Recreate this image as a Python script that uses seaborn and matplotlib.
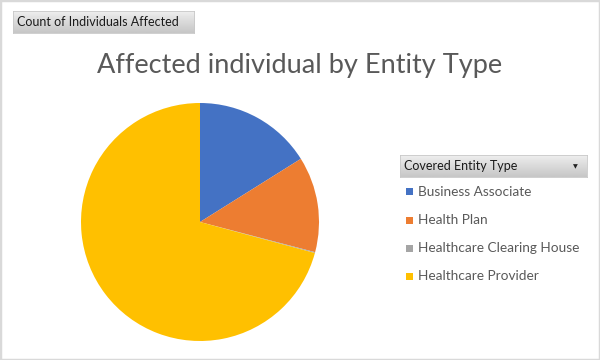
import numpy as np
import matplotlib
matplotlib.use("Agg")
import matplotlib.pyplot as plt
from matplotlib.patches import Rectangle
import seaborn as sns

# data (start at 12 o'clock, clockwise)
entity_types = ["Business Associate", "Health Plan",
                "Healthcare Clearing House", "Healthcare Provider"]
individuals = [27_500_000, 22_200_000, 200_000, 121_000_000]
slice_colors = ["#4472C4", "#ED7D31", "#A5A5A5", "#FFC000"]

chart_title = "Affected individual by Entity Type"
value_field = "Count of Individuals Affected"
legend_field = "Covered Entity Type"

sns.set_theme(style="white")
plt.rcParams["font.family"] = ["Lato", "DejaVu Sans"]

W, H = 600, 360
fig = plt.figure(figsize=(W / 100, H / 100), dpi=100)
fig.patch.set_facecolor("white")


def fx(px):
    return px / W


def fy(py):
    # pixel from top -> figure fraction from bottom
    return 1 - py / H


# pie: center (200, 222) px, radius 119 px
cx, cy, r = 200, 222, 119
ax = fig.add_axes([fx(cx - r), fy(cy + r), 2 * r / W, 2 * r / H])
ax.pie(individuals, colors=slice_colors, startangle=90, counterclock=False,
       radius=1, wedgeprops=dict(linewidth=0))
ax.set_xlim(-1, 1)
ax.set_ylim(-1, 1)
ax.set_aspect("auto")
ax.axis("off")

# title
fig.text(0.5, fy(66), chart_title, ha="center", va="center",
         fontsize=19.5, color="#595959")


def field_button(x0, y0, x1, y1, label, arrow=False):
    bax = fig.add_axes([fx(x0), fy(y1), fx(x1 - x0), (y1 - y0) / H])
    grad = np.linspace(0.93, 0.78, 20).reshape(-1, 1)
    bax.imshow(grad, aspect="auto", cmap="gray", vmin=0, vmax=1,
               extent=[0, 1, 0, 1], origin="upper")
    bax.set_xticks([])
    bax.set_yticks([])
    for s in bax.spines.values():
        s.set_color("#c8c8c8")
        s.set_linewidth(0.6)
    fig.text(fx(x0 + 4), fy((y0 + y1) / 2), label, ha="left", va="center",
             fontsize=9, color="#1a1a1a")
    if arrow:
        fig.text(fx(x1 - 12), fy((y0 + y1) / 2 + 1), "\u25BC", ha="center",
                 va="center", fontsize=4.5, color="#222222",
                 family="DejaVu Sans")


field_button(13, 11, 194, 33, value_field)
field_button(400, 155, 587, 177, legend_field, arrow=True)

# legend entries
for i, (name, col) in enumerate(zip(entity_types, slice_colors)):
    yc = 192 + 28 * i
    fig.patches.append(Rectangle((fx(406), fy(yc + 3.5)), fx(7), 7 / H,
                                 transform=fig.transFigure, facecolor=col,
                                 edgecolor="none"))
    fig.text(fx(418), fy(yc), name, ha="left", va="center",
             fontsize=9.8, color="#595959")

# outer chart border
fig.patches.append(Rectangle((0, 0), 1, 1, transform=fig.transFigure,
                             fill=False, edgecolor="#d9d9d9", linewidth=2.5))

fig.savefig("out.png", dpi=100)
